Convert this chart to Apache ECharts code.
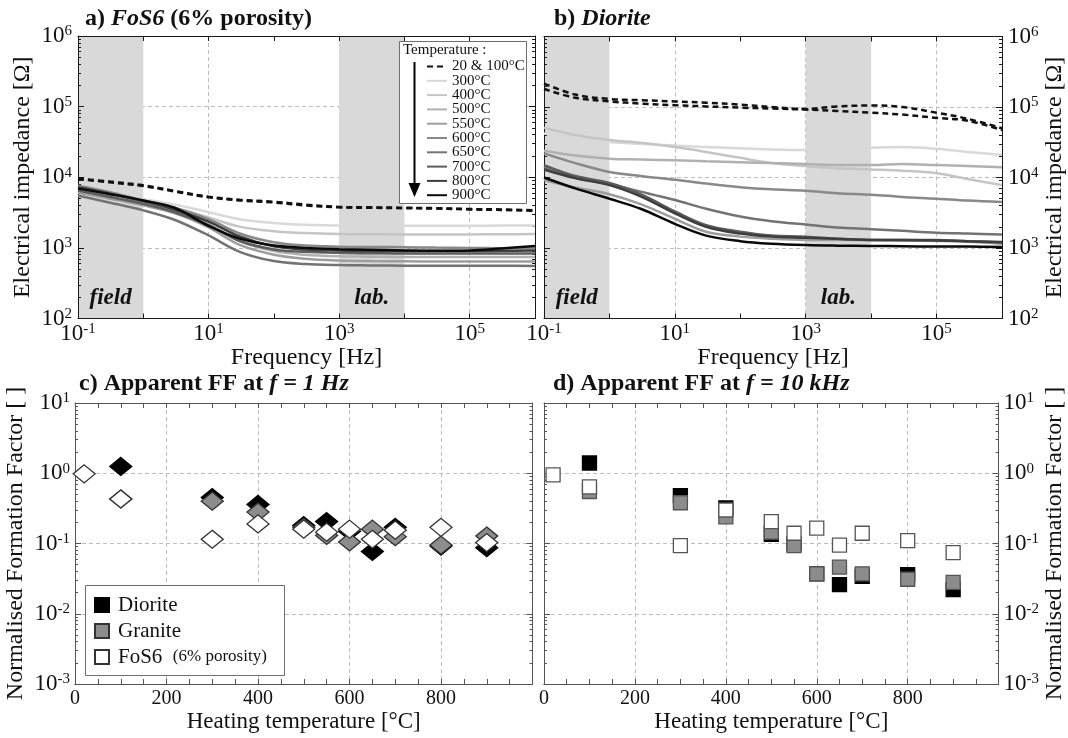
<!DOCTYPE html>
<html>
<head>
<meta charset="utf-8">
<script src="https://cdn.jsdelivr.net/npm/echarts@6/dist/echarts.min.js"></script>
<style>
  html, body { margin: 0; padding: 0; background: #fff; }
  #main { width: 1068px; height: 738px; }
</style>
</head>
<body>
<div id="main"></div>
<script>
// frequencies [Hz] used for every impedance curve
var freq = [0.1, 0.3, 1, 3, 10, 30, 100, 300, 1e3, 3e3, 1e4, 3e4, 1e5, 3e5, 1e6];
var tempNames = ['20 & 100°C', '300°C', '400°C', '500°C', '550°C', '600°C', '650°C', '700°C', '800°C', '900°C'];
var tempColors = ['#111111', '#d9d9d9', '#c5c5c5', '#b1b1b1', '#9d9d9d', '#898989', '#737373', '#5c5c5c', '#3e3e3e', '#0a0a0a'];

// a) FoS6 impedance [Ohm]
var fos20  = [9600, 8700, 7700, 6400, 5300, 4800, 4500, 4100, 3800, 3750, 3700, 3650, 3550, 3500, 3400];
var fos100 = [9400, 8500, 7500, 6300, 5200, 4700, 4400, 4000, 3750, 3700, 3650, 3600, 3500, 3450, 3350];
var fos300 = [7000, 5900, 4900, 4100, 3200, 2550, 2250, 2120, 2070, 2050, 2050, 2050, 2060, 2070, 2080];
var fos400 = [6600, 5500, 4500, 3700, 2700, 2000, 1720, 1620, 1570, 1560, 1550, 1550, 1550, 1560, 1570];
var fos500 = [6300, 5200, 4200, 3300, 2150, 1250, 900, 800, 760, 750, 740, 740, 740, 740, 740];
var fos550 = [6100, 5000, 4000, 3100, 1950, 1100, 800, 700, 660, 650, 645, 640, 640, 640, 640];
var fos600 = [7600, 6200, 4700, 3700, 2550, 1600, 1200, 1080, 1040, 1030, 1020, 1010, 1000, 990, 980];
var fos650 = [5500, 4400, 3400, 2500, 1500, 880, 650, 590, 570, 565, 560, 560, 560, 560, 555];
var fos700 = [6500, 5300, 4200, 3200, 2100, 1250, 950, 880, 850, 840, 830, 830, 830, 830, 830];
var fos800 = [7200, 5900, 4600, 3500, 2350, 1450, 1050, 950, 920, 910, 900, 900, 900, 910, 920];
var fos900 = [6900, 5800, 4700, 3700, 2050, 1350, 1080, 1000, 960, 940, 920, 910, 920, 980, 1060];

// b) Diorite impedance [Ohm]
var dio20  = [215000, 150000, 130000, 125000, 120000, 115000, 108000, 100000, 94000, 102000, 105000, 100000, 83000, 68000, 50000];
var dio100 = [180000, 135000, 120000, 112000, 106000, 102000, 98000, 95000, 92000, 88000, 83000, 78000, 70000, 64000, 47000];
var dio300 = [42000, 36000, 32000, 30000, 28500, 27000, 26000, 25000, 24500, 25000, 26500, 27000, 25500, 23000, 21000];
var dio400 = [51000, 40000, 34000, 31000, 27000, 23000, 19000, 16000, 14500, 13500, 13000, 12500, 11500, 9500, 7800];
var dio500 = [24000, 20500, 18500, 18000, 17500, 17000, 16500, 16000, 15500, 15000, 15000, 15500, 15000, 14500, 14000];
var dio550 = [9200, 7200, 5800, 4200, 2600, 1700, 1450, 1350, 1300, 1300, 1300, 1280, 1260, 1230, 1150];
var dio600 = [22000, 16000, 12000, 10500, 9300, 8200, 7300, 6800, 6500, 6000, 5700, 5300, 5000, 4700, 4500];
var dio650 = [14000, 10000, 8000, 6300, 4800, 3600, 2800, 2400, 2150, 1950, 1850, 1750, 1650, 1600, 1550];
var dio700 = [15000, 10500, 8400, 5800, 3300, 2100, 1700, 1500, 1450, 1350, 1300, 1300, 1300, 1250, 1200];
var dio800 = [13000, 9800, 7800, 5400, 3100, 2000, 1600, 1450, 1400, 1350, 1300, 1300, 1280, 1250, 1220];
var dio900 = [10000, 7000, 5000, 3600, 2200, 1500, 1250, 1150, 1100, 1080, 1070, 1060, 1050, 1050, 1030];

var fosHot = [fos300, fos400, fos500, fos550, fos600, fos650, fos700, fos800, fos900];
var dioHot = [dio300, dio400, dio500, dio550, dio600, dio650, dio700, dio800, dio900];

// field / lab frequency bands
var bandNames = ['field', 'lab.'];
var bandFrom = [0.1, 1000];
var bandTo = [1, 10000];

// c) apparent FF at 1 Hz  [heating temperature, normalised FF]
var dioC = [[100, 1.25], [300, 0.45], [400, 0.36], [500, 0.18], [550, 0.205], [600, 0.15], [650, 0.077], [700, 0.17], [800, 0.092], [900, 0.087]];
var graC = [[100, 0.43], [300, 0.40], [400, 0.28], [500, 0.17], [550, 0.13], [600, 0.105], [650, 0.16], [700, 0.125], [800, 0.095], [900, 0.128]];
var fosC = [[20, 0.98], [100, 0.43], [300, 0.115], [400, 0.19], [500, 0.16], [550, 0.145], [600, 0.16], [650, 0.115], [700, 0.155], [800, 0.17], [900, 0.103]];

// d) apparent FF at 10 kHz
var dioD = [[100, 1.4], [300, 0.48], [400, 0.32], [500, 0.135], [550, 0.1], [600, 0.037], [650, 0.026], [700, 0.034], [800, 0.036], [900, 0.022]];
var graD = [[100, 0.55], [300, 0.38], [400, 0.24], [500, 0.145], [550, 0.093], [600, 0.037], [650, 0.046], [700, 0.037], [800, 0.031], [900, 0.028]];
var fosD = [[20, 0.95], [100, 0.64], [300, 0.093], [400, 0.30], [500, 0.205], [550, 0.14], [600, 0.165], [650, 0.095], [700, 0.14], [800, 0.11], [900, 0.074]];

var FONT = "'Liberation Serif', 'Times New Roman', serif";
var ink = '#111';

function minorLog(lo, hi) {
  var out = [];
  for (var e = lo; e < hi; e++) {
    for (var m = 2; m <= 9; m++) out.push(+(m * Math.pow(10, e)).toPrecision(3));
  }
  return out;
}
var ohmMinor = minorLog(2, 6);
var ffMinor = minorLog(-3, 1);

var supRich = {
  b: { fontFamily: FONT, fontSize: 23, color: ink, lineHeight: 24 },
  s: { fontFamily: FONT, fontSize: 15, color: ink, lineHeight: 15, verticalAlign: 'top' }
};
function powLabel(v) {
  var e = Math.round(Math.log10(v));
  return '{b|10}{s|' + e + '}';
}
var nameStyle = { fontFamily: FONT, fontSize: 24, color: ink };
var dashGrid = { color: '#bdbdbd', type: [4, 3], width: 1 };

var grids = [
  { left: 78, top: 36, width: 457, height: 282.5 },
  { left: 544, top: 36.5, width: 458, height: 282 },
  { left: 75, top: 403, width: 457.5, height: 281 },
  { left: 544, top: 403, width: 458, height: 281 }
];

var xAxis = [], yAxis = [];
function addX(o) { xAxis.push(o); return xAxis.length - 1; }
function addY(o) { yAxis.push(o); return yAxis.length - 1; }

function frame(color, show) {
  return { show: show, onZero: false, lineStyle: { color: color, width: 1 } };
}

// log-log impedance panel
function impedanceAxes(g, side, color) {
  var other = side === 'left' ? 'right' : 'left';
  var xi = addX({
    type: 'log', gridIndex: g, min: 0.1, max: 1e6, splitNumber: 7, position: 'bottom', z: 1,
    axisLine: frame(color, true),
    axisTick: { inside: true, length: 5, lineStyle: { color: color } },
    axisLabel: {
      margin: 3, showMinLabel: true, rich: supRich,
      formatter: function (v) { var e = Math.round(Math.log10(v)); return e % 2 ? powLabel(v) : ''; }
    },
    splitLine: { show: true, lineStyle: { color: ['#bdbdbd', 'rgba(0,0,0,0)'], type: [4, 3], width: 1 } },
    name: 'Frequency [Hz]', nameLocation: 'middle', nameGap: 17, nameTextStyle: nameStyle
  });
  addX({
    type: 'log', gridIndex: g, min: 0.1, max: 1e6, splitNumber: 7, position: 'top', z: 1,
    axisLine: frame(color, true), axisTick: { inside: true, length: 5, lineStyle: { color: color } },
    axisLabel: { show: false }, splitLine: { show: false }
  });
  var yi = addY({
    type: 'log', gridIndex: g, min: 100, max: 1e6, splitNumber: 4, position: side, z: 1,
    axisLine: frame(color, true),
    axisTick: { inside: true, length: 6, lineStyle: { color: color } },
    axisLabel: { margin: 6, showMinLabel: true, showMaxLabel: true, rich: supRich, formatter: powLabel },
    splitLine: { show: true, lineStyle: dashGrid },
    name: 'Electrical impedance [Ω]', nameLocation: 'middle', nameRotate: 90, nameGap: side === 'left' ? 43 : 41,
    nameTextStyle: nameStyle
  });
  addY({
    type: 'log', gridIndex: g, min: 100, max: 1e6, position: side, z: 1, axisLine: frame(color, false),
    axisTick: { inside: true, length: 3, customValues: ohmMinor, lineStyle: { color: color } },
    axisLabel: { show: false }, splitLine: { show: false }
  });
  addY({
    type: 'log', gridIndex: g, min: 100, max: 1e6, splitNumber: 4, position: other, z: 1, axisLine: frame(color, true),
    axisTick: { inside: true, length: 6, lineStyle: { color: color } },
    axisLabel: { show: false }, splitLine: { show: false }
  });
  addY({
    type: 'log', gridIndex: g, min: 100, max: 1e6, position: other, z: 1, axisLine: frame(color, false),
    axisTick: { inside: true, length: 3, customValues: ohmMinor, lineStyle: { color: color } },
    axisLabel: { show: false }, splitLine: { show: false }
  });
  return [xi, yi];
}

// heating temperature vs formation factor panel
function ffAxes(g, side, color) {
  var other = side === 'left' ? 'right' : 'left';
  var xi = addX({
    type: 'value', gridIndex: g, min: 0, max: 1000, interval: 200, position: 'bottom', z: 1,
    axisLine: frame(color, true), axisTick: { show: false },
    axisLabel: {
      margin: 5, fontFamily: FONT, fontSize: 20, color: ink,
      formatter: function (v) { return v < 1000 ? String(v) : ''; }
    },
    splitLine: { show: true, lineStyle: dashGrid },
    name: 'Heating temperature [°C]', nameLocation: 'middle', nameGap: 26,
    nameTextStyle: { fontFamily: FONT, fontSize: 23, color: ink }
  });
  ['bottom', 'top'].forEach(function (p) {
    addX({
      type: 'value', gridIndex: g, min: 0, max: 1000, interval: 50, position: p, z: 1,
      axisLine: frame(color, true), axisTick: { inside: true, length: 5, lineStyle: { color: color } },
      axisLabel: { show: false }, splitLine: { show: false }
    });
  });
  var yi = addY({
    type: 'log', gridIndex: g, min: 0.001, max: 10, splitNumber: 4, position: side, z: 1,
    axisLine: frame(color, true),
    axisTick: { inside: true, length: 6, lineStyle: { color: color } },
    axisLabel: { margin: 5, showMinLabel: true, showMaxLabel: true, rich: supRich, formatter: powLabel },
    splitLine: { show: true, lineStyle: dashGrid },
    name: 'Normalised Formation Factor [ ]', nameLocation: 'middle', nameRotate: 90,
    nameGap: side === 'left' ? 47 : 42, nameTextStyle: nameStyle
  });
  addY({
    type: 'log', gridIndex: g, min: 0.001, max: 10, position: side, z: 1, axisLine: frame(color, false),
    axisTick: { inside: true, length: 3, customValues: ffMinor, lineStyle: { color: color } },
    axisLabel: { show: false }, splitLine: { show: false }
  });
  addY({
    type: 'log', gridIndex: g, min: 0.001, max: 10, splitNumber: 4, position: other, z: 1, axisLine: frame(color, true),
    axisTick: { inside: true, length: 6, lineStyle: { color: color } },
    axisLabel: { show: false }, splitLine: { show: false }
  });
  addY({
    type: 'log', gridIndex: g, min: 0.001, max: 10, position: other, z: 1, axisLine: frame(color, false),
    axisTick: { inside: true, length: 3, customValues: ffMinor, lineStyle: { color: color } },
    axisLabel: { show: false }, splitLine: { show: false }
  });
  return [xi, yi];
}

var axA = impedanceAxes(0, 'left', '#1a1a1a');
var axB = impedanceAxes(1, 'right', '#1a1a1a');
var axC = ffAxes(2, 'left', '#555');
var axD = ffAxes(3, 'right', '#555');

function curve(name, ax, vals, color, dashed) {
  return {
    type: 'line', name: name, xAxisIndex: ax[0], yAxisIndex: ax[1], z: 2, silent: true,
    data: freq.map(function (f, i) { return [f, vals[i]]; }),
    smooth: 0.35, symbol: 'none', animation: false,
    lineStyle: { color: color, width: 2.5, type: dashed ? [6, 4] : 'solid' },
    itemStyle: { color: color }
  };
}

function bandSeries(ax) {
  return {
    type: 'line', xAxisIndex: ax[0], yAxisIndex: ax[1], data: [], z: 0, silent: true,
    markArea: {
      silent: true,
      itemStyle: { color: '#d9d9d9' },
      label: {
        show: true, position: 'insideBottom', distance: 9, fontFamily: FONT, fontSize: 23,
        fontWeight: 'bold', fontStyle: 'italic', color: ink
      },
      data: bandNames.map(function (n, i) { return [{ name: n, xAxis: bandFrom[i] }, { xAxis: bandTo[i] }]; })
    }
  };
}

function dots(name, ax, data, symbol, size, fill, stroke) {
  return {
    type: 'scatter', name: name, xAxisIndex: ax[0], yAxisIndex: ax[1], data: data, z: 3,
    symbol: symbol, symbolSize: size, silent: true,
    itemStyle: { color: fill, borderColor: stroke, borderWidth: 1.3, opacity: 1 }
  };
}

var series = [bandSeries(axA), bandSeries(axB)];
fosHot.forEach(function (v, i) { series.push(curve(tempNames[i + 1], axA, v, tempColors[i + 1], false)); });
series.push(curve(tempNames[0], axA, fos20, tempColors[0], true));
series.push(curve(tempNames[0], axA, fos100, tempColors[0], true));
dioHot.forEach(function (v, i) { series.push(curve(tempNames[i + 1], axB, v, tempColors[i + 1], false)); });
series.push(curve(tempNames[0], axB, dio20, tempColors[0], true));
series.push(curve(tempNames[0], axB, dio100, tempColors[0], true));

series.push(dots('Diorite', axC, dioC, 'diamond', [22, 18], '#000', '#000'));
series.push(dots('Granite', axC, graC, 'diamond', [22, 18], '#8c8c8c', '#333'));
series.push(dots('FoS6', axC, fosC, 'diamond', [22, 18], '#fff', '#333'));
series.push(dots('Diorite', axD, dioD, 'rect', 14, '#000', '#000'));
series.push(dots('Granite', axD, graD, 'rect', 14, '#8c8c8c', '#555'));
series.push(dots('FoS6', axD, fosD, 'rect', 14, '#fff', '#555'));

var titleRich = {
  n: { fontFamily: FONT, fontSize: 24, fontWeight: 'bold', color: ink },
  i: { fontFamily: FONT, fontSize: 24, fontWeight: 'bold', fontStyle: 'italic', color: ink }
};
function panelTitle(text, left, top) {
  return { text: text, left: left, top: top, padding: 0, textStyle: { fontSize: 24, rich: titleRich } };
}

var chart = echarts.init(document.getElementById('main'));
chart.setOption({
  backgroundColor: '#fff',
  animation: false,
  title: [
    panelTitle('{n|a) }{i|FoS6}{n| (6% porosity)}', 85, 7),
    panelTitle('{n|b) }{i|Diorite}', 554, 7),
    panelTitle('{n|c) Apparent FF at }{i|f = 1 Hz}', 79, 372),
    panelTitle('{n|d) Apparent FF at }{i|f = 10 kHz}', 553, 372)
  ],
  grid: grids,
  xAxis: xAxis,
  yAxis: yAxis,
  legend: [
    {
      data: tempNames, orient: 'vertical', left: 426, top: 59, padding: 0, z: 12,
      itemWidth: 20, itemHeight: 8, itemGap: -0.7, selectedMode: false,
      itemStyle: { opacity: 0 },
      textStyle: { fontFamily: FONT, fontSize: 15, lineHeight: 13.4, color: ink }
    },
    {
      data: ['Diorite', 'Granite', 'FoS6'], orient: 'vertical', left: 94, top: 594.5, padding: 0, z: 12,
      itemWidth: 22, itemHeight: 14, itemGap: 5, selectedMode: false,
      icon: 'path://M0,0L10,0L10,10L0,10Z',
      textStyle: {
        fontFamily: FONT, fontSize: 21, lineHeight: 21, color: ink,
        rich: { s: { fontFamily: FONT, fontSize: 17, color: ink } }
      },
      formatter: function (n) { return n === 'FoS6' ? 'FoS6  {s|(6% porosity)}' : n; }
    }
  ],
  graphic: [
    { type: 'rect', z: 10, silent: true, shape: { x: 399.5, y: 41.5, width: 127, height: 162 },
      style: { fill: '#fff', stroke: '#6e6e6e', lineWidth: 1 } },
    { type: 'text', z: 11, silent: true, x: 403, y: 50,
      style: { text: 'Temperature :', fontFamily: FONT, fontSize: 15, fill: ink, verticalAlign: 'middle' } },
    { type: 'line', z: 11, silent: true, shape: { x1: 414.5, y1: 62, x2: 414.5, y2: 186 },
      style: { stroke: '#000', lineWidth: 2 } },
    { type: 'polygon', z: 11, silent: true, shape: { points: [[408.5, 183], [420.5, 183], [414.5, 197]] },
      style: { fill: '#000' } },
    { type: 'rect', z: 10, silent: true, shape: { x: 85.5, y: 585.5, width: 199, height: 90 },
      style: { fill: '#fff', stroke: '#6e6e6e', lineWidth: 1 } }
  ],
  series: series
});
</script>
</body>
</html>
